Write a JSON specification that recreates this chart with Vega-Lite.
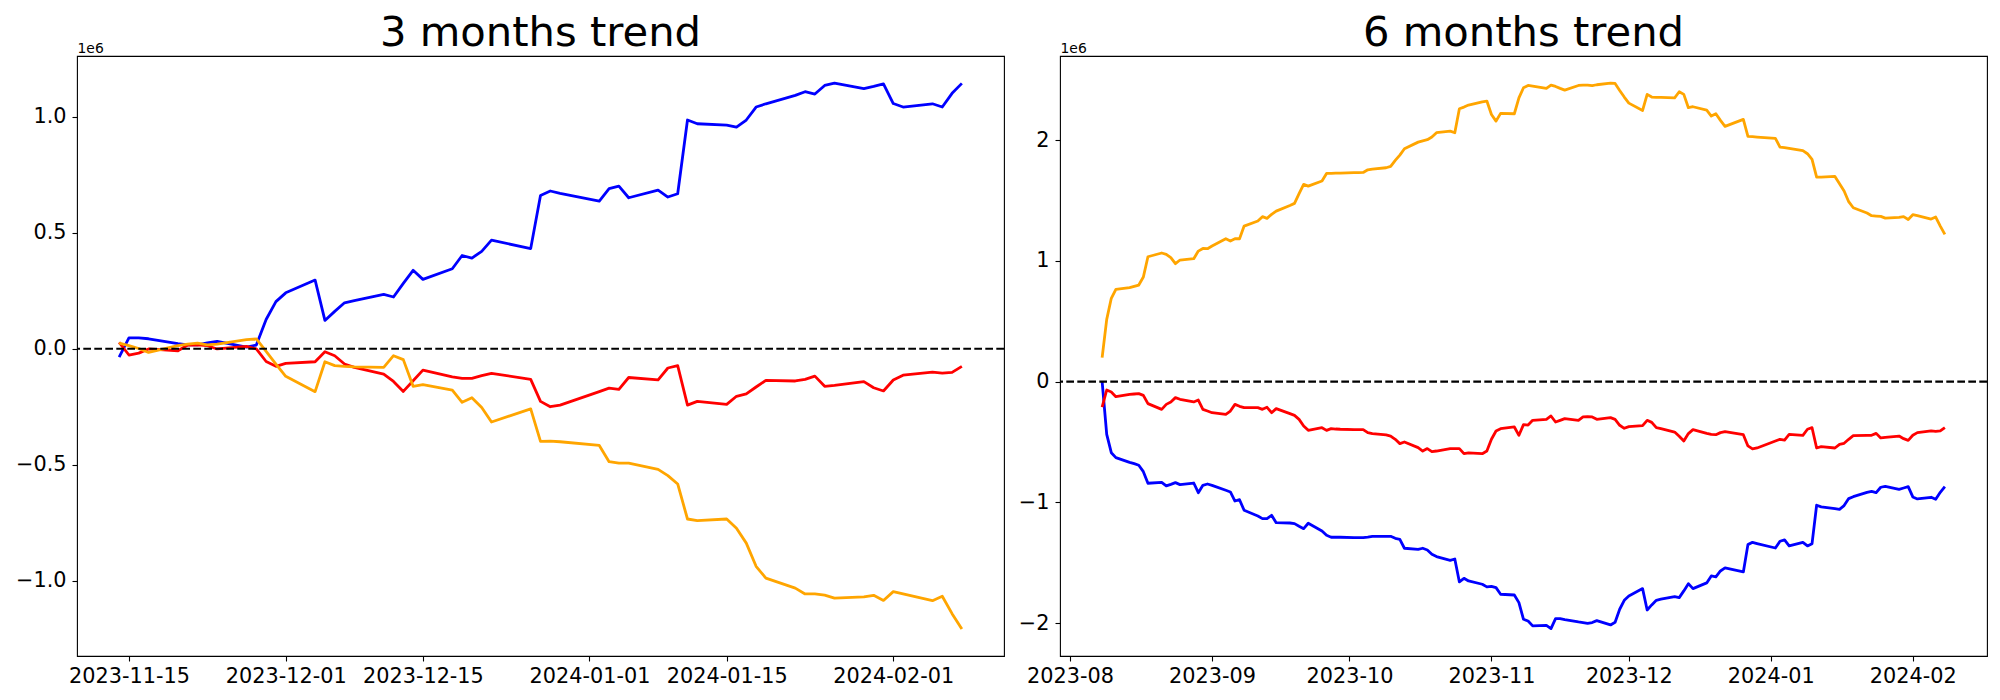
{
"$schema":"https://vega.github.io/schema/vega-lite/v6.json",
"padding":{"left":14,"top":12,"right":0,"bottom":0},
"background":"white",
"config":{
"font":"DejaVu Sans",
"view":{"stroke":"black","strokeWidth":1.1},
"axis":{"grid":false,"domain":false,"tickColor":"black","tickWidth":1.1,"tickSize":5,"labelFont":"DejaVu Sans","labelFontSize":20.8,"labelColor":"black","labelPadding":6,"titleFont":"DejaVu Sans"},
"title":{"font":"DejaVu Sans","fontSize":41.7,"fontWeight":"normal","color":"black"}
},
"bounds":"flush",
"spacing":56,
"datasets":{
"m3":[
{"date":"2023-11-14","series":"A","value":-36000},{"date":"2023-11-14","series":"B","value":27000},{"date":"2023-11-14","series":"C","value":24000},
{"date":"2023-11-15","series":"A","value":47000},{"date":"2023-11-15","series":"B","value":-27000},{"date":"2023-11-15","series":"C","value":13000},
{"date":"2023-11-16","series":"A","value":47000},{"date":"2023-11-16","series":"B","value":-19000},{"date":"2023-11-16","series":"C","value":1000},
{"date":"2023-11-17","series":"A","value":43000},{"date":"2023-11-17","series":"B","value":-1000},{"date":"2023-11-17","series":"C","value":-16000},
{"date":"2023-11-20","series":"A","value":22000},{"date":"2023-11-20","series":"B","value":-9000},{"date":"2023-11-20","series":"C","value":13000},
{"date":"2023-11-21","series":"A","value":17000},{"date":"2023-11-21","series":"B","value":16000},{"date":"2023-11-21","series":"C","value":20000},
{"date":"2023-11-22","series":"A","value":17000},{"date":"2023-11-22","series":"B","value":17000},{"date":"2023-11-22","series":"C","value":24000},
{"date":"2023-11-23","series":"A","value":25000},{"date":"2023-11-23","series":"B","value":13000},{"date":"2023-11-23","series":"C","value":17000},
{"date":"2023-11-24","series":"A","value":32000},{"date":"2023-11-24","series":"B","value":-1000},{"date":"2023-11-24","series":"C","value":20000},
{"date":"2023-11-27","series":"A","value":7000},{"date":"2023-11-27","series":"B","value":10000},{"date":"2023-11-27","series":"C","value":39000},
{"date":"2023-11-28","series":"A","value":16000},{"date":"2023-11-28","series":"B","value":-1000},{"date":"2023-11-28","series":"C","value":42000},
{"date":"2023-11-29","series":"A","value":126000},{"date":"2023-11-29","series":"B","value":-55000},{"date":"2023-11-29","series":"C","value":-11000},
{"date":"2023-11-30","series":"A","value":203000},{"date":"2023-11-30","series":"B","value":-76000},{"date":"2023-11-30","series":"C","value":-66000},
{"date":"2023-12-01","series":"A","value":241000},{"date":"2023-12-01","series":"B","value":-63000},{"date":"2023-12-01","series":"C","value":-119000},
{"date":"2023-12-04","series":"A","value":296000},{"date":"2023-12-04","series":"B","value":-56000},{"date":"2023-12-04","series":"C","value":-185000},
{"date":"2023-12-05","series":"A","value":122000},{"date":"2023-12-05","series":"B","value":-13000},{"date":"2023-12-05","series":"C","value":-56000},
{"date":"2023-12-06","series":"A","value":161000},{"date":"2023-12-06","series":"B","value":-30000},{"date":"2023-12-06","series":"C","value":-73000},
{"date":"2023-12-07","series":"A","value":198000},{"date":"2023-12-07","series":"B","value":-66000},{"date":"2023-12-07","series":"C","value":-76000},
{"date":"2023-12-08","series":"A","value":207000},{"date":"2023-12-08","series":"B","value":-80000},{"date":"2023-12-08","series":"C","value":-78000},
{"date":"2023-12-11","series":"A","value":234000},{"date":"2023-12-11","series":"B","value":-109000},{"date":"2023-12-11","series":"C","value":-80000},
{"date":"2023-12-12","series":"A","value":223000},{"date":"2023-12-12","series":"B","value":-141000},{"date":"2023-12-12","series":"C","value":-30000},
{"date":"2023-12-13","series":"A","value":282000},{"date":"2023-12-13","series":"B","value":-184000},{"date":"2023-12-13","series":"C","value":-47000},
{"date":"2023-12-14","series":"A","value":338000},{"date":"2023-12-14","series":"B","value":-138000},{"date":"2023-12-14","series":"C","value":-162000},
{"date":"2023-12-15","series":"A","value":299000},{"date":"2023-12-15","series":"B","value":-92000},{"date":"2023-12-15","series":"C","value":-155000},
{"date":"2023-12-18","series":"A","value":345000},{"date":"2023-12-18","series":"B","value":-121000},{"date":"2023-12-18","series":"C","value":-178000},
{"date":"2023-12-19","series":"A","value":402000},{"date":"2023-12-19","series":"B","value":-128000},{"date":"2023-12-19","series":"C","value":-231000},
{"date":"2023-12-20","series":"A","value":391000},{"date":"2023-12-20","series":"B","value":-128000},{"date":"2023-12-20","series":"C","value":-211000},
{"date":"2023-12-21","series":"A","value":420000},{"date":"2023-12-21","series":"B","value":-116000},{"date":"2023-12-21","series":"C","value":-253000},
{"date":"2023-12-22","series":"A","value":468000},{"date":"2023-12-22","series":"B","value":-106000},{"date":"2023-12-22","series":"C","value":-316000},
{"date":"2023-12-26","series":"A","value":432000},{"date":"2023-12-26","series":"B","value":-132000},{"date":"2023-12-26","series":"C","value":-259000},
{"date":"2023-12-27","series":"A","value":661000},{"date":"2023-12-27","series":"B","value":-227000},{"date":"2023-12-27","series":"C","value":-399000},
{"date":"2023-12-28","series":"A","value":680000},{"date":"2023-12-28","series":"B","value":-250000},{"date":"2023-12-28","series":"C","value":-398000},
{"date":"2023-12-29","series":"A","value":670000},{"date":"2023-12-29","series":"B","value":-243000},{"date":"2023-12-29","series":"C","value":-401000},
{"date":"2024-01-02","series":"A","value":636000},{"date":"2024-01-02","series":"B","value":-185000},{"date":"2024-01-02","series":"C","value":-417000},
{"date":"2024-01-03","series":"A","value":690000},{"date":"2024-01-03","series":"B","value":-170000},{"date":"2024-01-03","series":"C","value":-487000},
{"date":"2024-01-04","series":"A","value":701000},{"date":"2024-01-04","series":"B","value":-175000},{"date":"2024-01-04","series":"C","value":-493000},
{"date":"2024-01-05","series":"A","value":651000},{"date":"2024-01-05","series":"B","value":-124000},{"date":"2024-01-05","series":"C","value":-493000},
{"date":"2024-01-08","series":"A","value":684000},{"date":"2024-01-08","series":"B","value":-134000},{"date":"2024-01-08","series":"C","value":-520000},
{"date":"2024-01-09","series":"A","value":654000},{"date":"2024-01-09","series":"B","value":-83000},{"date":"2024-01-09","series":"C","value":-547000},
{"date":"2024-01-10","series":"A","value":668000},{"date":"2024-01-10","series":"B","value":-73000},{"date":"2024-01-10","series":"C","value":-583000},
{"date":"2024-01-11","series":"A","value":986000},{"date":"2024-01-11","series":"B","value":-243000},{"date":"2024-01-11","series":"C","value":-734000},
{"date":"2024-01-12","series":"A","value":970000},{"date":"2024-01-12","series":"B","value":-227000},{"date":"2024-01-12","series":"C","value":-741000},
{"date":"2024-01-15","series":"A","value":964000},{"date":"2024-01-15","series":"B","value":-240000},{"date":"2024-01-15","series":"C","value":-734000},
{"date":"2024-01-16","series":"A","value":955000},{"date":"2024-01-16","series":"B","value":-205000},{"date":"2024-01-16","series":"C","value":-774000},
{"date":"2024-01-17","series":"A","value":986000},{"date":"2024-01-17","series":"B","value":-195000},{"date":"2024-01-17","series":"C","value":-838000},
{"date":"2024-01-18","series":"A","value":1042000},{"date":"2024-01-18","series":"B","value":-165000},{"date":"2024-01-18","series":"C","value":-938000},
{"date":"2024-01-19","series":"A","value":1056000},{"date":"2024-01-19","series":"B","value":-136000},{"date":"2024-01-19","series":"C","value":-989000},
{"date":"2024-01-22","series":"A","value":1092000},{"date":"2024-01-22","series":"B","value":-139000},{"date":"2024-01-22","series":"C","value":-1032000},
{"date":"2024-01-23","series":"A","value":1108000},{"date":"2024-01-23","series":"B","value":-132000},{"date":"2024-01-23","series":"C","value":-1057000},
{"date":"2024-01-24","series":"A","value":1098000},{"date":"2024-01-24","series":"B","value":-118000},{"date":"2024-01-24","series":"C","value":-1057000},
{"date":"2024-01-25","series":"A","value":1135000},{"date":"2024-01-25","series":"B","value":-162000},{"date":"2024-01-25","series":"C","value":-1062000},
{"date":"2024-01-26","series":"A","value":1145000},{"date":"2024-01-26","series":"B","value":-158000},{"date":"2024-01-26","series":"C","value":-1075000},
{"date":"2024-01-29","series":"A","value":1121000},{"date":"2024-01-29","series":"B","value":-142000},{"date":"2024-01-29","series":"C","value":-1070000},
{"date":"2024-01-30","series":"A","value":1131000},{"date":"2024-01-30","series":"B","value":-168000},{"date":"2024-01-30","series":"C","value":-1063000},
{"date":"2024-01-31","series":"A","value":1142000},{"date":"2024-01-31","series":"B","value":-182000},{"date":"2024-01-31","series":"C","value":-1085000},
{"date":"2024-02-01","series":"A","value":1057000},{"date":"2024-02-01","series":"B","value":-135000},{"date":"2024-02-01","series":"C","value":-1047000},
{"date":"2024-02-02","series":"A","value":1042000},{"date":"2024-02-02","series":"B","value":-114000},{"date":"2024-02-02","series":"C","value":-1057000},
{"date":"2024-02-05","series":"A","value":1056000},{"date":"2024-02-05","series":"B","value":-101000},{"date":"2024-02-05","series":"C","value":-1086000},
{"date":"2024-02-06","series":"A","value":1042000},{"date":"2024-02-06","series":"B","value":-105000},{"date":"2024-02-06","series":"C","value":-1067000},
{"date":"2024-02-07","series":"A","value":1101000},{"date":"2024-02-07","series":"B","value":-102000},{"date":"2024-02-07","series":"C","value":-1142000},
{"date":"2024-02-08","series":"A","value":1144000},{"date":"2024-02-08","series":"B","value":-76000},{"date":"2024-02-08","series":"C","value":-1208000}
],
"m6":[
{"date":"2023-08-08","series":"A","value":0},{"date":"2023-08-08","series":"B","value":-210000},{"date":"2023-08-08","series":"C","value":199000},
{"date":"2023-08-09","series":"A","value":-436000},{"date":"2023-08-09","series":"B","value":-69000},{"date":"2023-08-09","series":"C","value":516000},
{"date":"2023-08-10","series":"A","value":-588000},{"date":"2023-08-10","series":"B","value":-86000},{"date":"2023-08-10","series":"C","value":690000},
{"date":"2023-08-11","series":"A","value":-629000},{"date":"2023-08-11","series":"B","value":-124000},{"date":"2023-08-11","series":"C","value":764000},
{"date":"2023-08-14","series":"A","value":-668000},{"date":"2023-08-14","series":"B","value":-105000},{"date":"2023-08-14","series":"C","value":778000},
{"date":"2023-08-15","series":"A","value":-679000},{"date":"2023-08-15","series":"B","value":-102000},{"date":"2023-08-15","series":"C","value":789000},
{"date":"2023-08-16","series":"A","value":-692000},{"date":"2023-08-16","series":"B","value":-99000},{"date":"2023-08-16","series":"C","value":800000},
{"date":"2023-08-17","series":"A","value":-745000},{"date":"2023-08-17","series":"B","value":-113000},{"date":"2023-08-17","series":"C","value":866000},
{"date":"2023-08-18","series":"A","value":-841000},{"date":"2023-08-18","series":"B","value":-182000},{"date":"2023-08-18","series":"C","value":1034000},
{"date":"2023-08-21","series":"A","value":-833000},{"date":"2023-08-21","series":"B","value":-229000},{"date":"2023-08-21","series":"C","value":1065000},
{"date":"2023-08-22","series":"A","value":-863000},{"date":"2023-08-22","series":"B","value":-188000},{"date":"2023-08-22","series":"C","value":1054000},
{"date":"2023-08-23","series":"A","value":-850000},{"date":"2023-08-23","series":"B","value":-168000},{"date":"2023-08-23","series":"C","value":1026000},
{"date":"2023-08-24","series":"A","value":-836000},{"date":"2023-08-24","series":"B","value":-132000},{"date":"2023-08-24","series":"C","value":977000},
{"date":"2023-08-25","series":"A","value":-852000},{"date":"2023-08-25","series":"B","value":-146000},{"date":"2023-08-25","series":"C","value":1007000},
{"date":"2023-08-28","series":"A","value":-839000},{"date":"2023-08-28","series":"B","value":-168000},{"date":"2023-08-28","series":"C","value":1018000},
{"date":"2023-08-29","series":"A","value":-919000},{"date":"2023-08-29","series":"B","value":-152000},{"date":"2023-08-29","series":"C","value":1081000},
{"date":"2023-08-30","series":"A","value":-858000},{"date":"2023-08-30","series":"B","value":-229000},{"date":"2023-08-30","series":"C","value":1103000},
{"date":"2023-08-31","series":"A","value":-847000},{"date":"2023-08-31","series":"B","value":-243000},{"date":"2023-08-31","series":"C","value":1101000},
{"date":"2023-09-01","series":"A","value":-858000},{"date":"2023-09-01","series":"B","value":-257000},{"date":"2023-09-01","series":"C","value":1123000},
{"date":"2023-09-04","series":"A","value":-899000},{"date":"2023-09-04","series":"B","value":-270000},{"date":"2023-09-04","series":"C","value":1183000},
{"date":"2023-09-05","series":"A","value":-913000},{"date":"2023-09-05","series":"B","value":-243000},{"date":"2023-09-05","series":"C","value":1164000},
{"date":"2023-09-06","series":"A","value":-988000},{"date":"2023-09-06","series":"B","value":-188000},{"date":"2023-09-06","series":"C","value":1183000},
{"date":"2023-09-07","series":"A","value":-977000},{"date":"2023-09-07","series":"B","value":-204000},{"date":"2023-09-07","series":"C","value":1183000},
{"date":"2023-09-08","series":"A","value":-1065000},{"date":"2023-09-08","series":"B","value":-215000},{"date":"2023-09-08","series":"C","value":1288000},
{"date":"2023-09-11","series":"A","value":-1112000},{"date":"2023-09-11","series":"B","value":-215000},{"date":"2023-09-11","series":"C","value":1330000},
{"date":"2023-09-12","series":"A","value":-1134000},{"date":"2023-09-12","series":"B","value":-229000},{"date":"2023-09-12","series":"C","value":1366000},
{"date":"2023-09-13","series":"A","value":-1134000},{"date":"2023-09-13","series":"B","value":-212000},{"date":"2023-09-13","series":"C","value":1352000},
{"date":"2023-09-14","series":"A","value":-1106000},{"date":"2023-09-14","series":"B","value":-257000},{"date":"2023-09-14","series":"C","value":1385000},
{"date":"2023-09-15","series":"A","value":-1167000},{"date":"2023-09-15","series":"B","value":-223000},{"date":"2023-09-15","series":"C","value":1412000},
{"date":"2023-09-18","series":"A","value":-1170000},{"date":"2023-09-18","series":"B","value":-265000},{"date":"2023-09-18","series":"C","value":1459000},
{"date":"2023-09-19","series":"A","value":-1175000},{"date":"2023-09-19","series":"B","value":-279000},{"date":"2023-09-19","series":"C","value":1476000},
{"date":"2023-09-20","series":"A","value":-1197000},{"date":"2023-09-20","series":"B","value":-312000},{"date":"2023-09-20","series":"C","value":1556000},
{"date":"2023-09-21","series":"A","value":-1217000},{"date":"2023-09-21","series":"B","value":-367000},{"date":"2023-09-21","series":"C","value":1633000},
{"date":"2023-09-22","series":"A","value":-1172000},{"date":"2023-09-22","series":"B","value":-403000},{"date":"2023-09-22","series":"C","value":1619000},
{"date":"2023-09-25","series":"A","value":-1236000},{"date":"2023-09-25","series":"B","value":-381000},{"date":"2023-09-25","series":"C","value":1661000},
{"date":"2023-09-26","series":"A","value":-1272000},{"date":"2023-09-26","series":"B","value":-403000},{"date":"2023-09-26","series":"C","value":1724000},
{"date":"2023-09-27","series":"A","value":-1288000},{"date":"2023-09-27","series":"B","value":-389000},{"date":"2023-09-27","series":"C","value":1724000},
{"date":"2023-09-28","series":"A","value":-1288000},{"date":"2023-09-28","series":"B","value":-392000},{"date":"2023-09-28","series":"C","value":1727000},
{"date":"2023-09-29","series":"A","value":-1288000},{"date":"2023-09-29","series":"B","value":-394000},{"date":"2023-09-29","series":"C","value":1727000},
{"date":"2023-10-02","series":"A","value":-1291000},{"date":"2023-10-02","series":"B","value":-397000},{"date":"2023-10-02","series":"C","value":1730000},
{"date":"2023-10-03","series":"A","value":-1291000},{"date":"2023-10-03","series":"B","value":-397000},{"date":"2023-10-03","series":"C","value":1730000},
{"date":"2023-10-04","series":"A","value":-1291000},{"date":"2023-10-04","series":"B","value":-397000},{"date":"2023-10-04","series":"C","value":1732000},
{"date":"2023-10-05","series":"A","value":-1286000},{"date":"2023-10-05","series":"B","value":-422000},{"date":"2023-10-05","series":"C","value":1754000},
{"date":"2023-10-06","series":"A","value":-1280000},{"date":"2023-10-06","series":"B","value":-430000},{"date":"2023-10-06","series":"C","value":1760000},
{"date":"2023-10-09","series":"A","value":-1280000},{"date":"2023-10-09","series":"B","value":-441000},{"date":"2023-10-09","series":"C","value":1771000},
{"date":"2023-10-10","series":"A","value":-1280000},{"date":"2023-10-10","series":"B","value":-450000},{"date":"2023-10-10","series":"C","value":1782000},
{"date":"2023-10-11","series":"A","value":-1297000},{"date":"2023-10-11","series":"B","value":-477000},{"date":"2023-10-11","series":"C","value":1832000},
{"date":"2023-10-12","series":"A","value":-1305000},{"date":"2023-10-12","series":"B","value":-513000},{"date":"2023-10-12","series":"C","value":1876000},
{"date":"2023-10-13","series":"A","value":-1379000},{"date":"2023-10-13","series":"B","value":-499000},{"date":"2023-10-13","series":"C","value":1928000},
{"date":"2023-10-16","series":"A","value":-1388000},{"date":"2023-10-16","series":"B","value":-546000},{"date":"2023-10-16","series":"C","value":1983000},
{"date":"2023-10-17","series":"A","value":-1379000},{"date":"2023-10-17","series":"B","value":-574000},{"date":"2023-10-17","series":"C","value":1994000},
{"date":"2023-10-18","series":"A","value":-1393000},{"date":"2023-10-18","series":"B","value":-554000},{"date":"2023-10-18","series":"C","value":2003000},
{"date":"2023-10-19","series":"A","value":-1429000},{"date":"2023-10-19","series":"B","value":-579000},{"date":"2023-10-19","series":"C","value":2025000},
{"date":"2023-10-20","series":"A","value":-1448000},{"date":"2023-10-20","series":"B","value":-574000},{"date":"2023-10-20","series":"C","value":2061000},
{"date":"2023-10-23","series":"A","value":-1479000},{"date":"2023-10-23","series":"B","value":-554000},{"date":"2023-10-23","series":"C","value":2074000},
{"date":"2023-10-24","series":"A","value":-1468000},{"date":"2023-10-24","series":"B","value":-554000},{"date":"2023-10-24","series":"C","value":2061000},
{"date":"2023-10-25","series":"A","value":-1658000},{"date":"2023-10-25","series":"B","value":-554000},{"date":"2023-10-25","series":"C","value":2259000},
{"date":"2023-10-26","series":"A","value":-1628000},{"date":"2023-10-26","series":"B","value":-596000},{"date":"2023-10-26","series":"C","value":2273000},
{"date":"2023-10-27","series":"A","value":-1650000},{"date":"2023-10-27","series":"B","value":-590000},{"date":"2023-10-27","series":"C","value":2290000},
{"date":"2023-10-30","series":"A","value":-1677000},{"date":"2023-10-30","series":"B","value":-596000},{"date":"2023-10-30","series":"C","value":2317000},
{"date":"2023-10-31","series":"A","value":-1699000},{"date":"2023-10-31","series":"B","value":-574000},{"date":"2023-10-31","series":"C","value":2323000},
{"date":"2023-11-01","series":"A","value":-1694000},{"date":"2023-11-01","series":"B","value":-477000},{"date":"2023-11-01","series":"C","value":2212000},
{"date":"2023-11-02","series":"A","value":-1705000},{"date":"2023-11-02","series":"B","value":-408000},{"date":"2023-11-02","series":"C","value":2157000},
{"date":"2023-11-03","series":"A","value":-1760000},{"date":"2023-11-03","series":"B","value":-389000},{"date":"2023-11-03","series":"C","value":2221000},
{"date":"2023-11-06","series":"A","value":-1766000},{"date":"2023-11-06","series":"B","value":-375000},{"date":"2023-11-06","series":"C","value":2218000},
{"date":"2023-11-07","series":"A","value":-1829000},{"date":"2023-11-07","series":"B","value":-444000},{"date":"2023-11-07","series":"C","value":2350000},
{"date":"2023-11-08","series":"A","value":-1967000},{"date":"2023-11-08","series":"B","value":-356000},{"date":"2023-11-08","series":"C","value":2433000},
{"date":"2023-11-09","series":"A","value":-1981000},{"date":"2023-11-09","series":"B","value":-359000},{"date":"2023-11-09","series":"C","value":2452000},
{"date":"2023-11-10","series":"A","value":-2022000},{"date":"2023-11-10","series":"B","value":-320000},{"date":"2023-11-10","series":"C","value":2447000},
{"date":"2023-11-13","series":"A","value":-2017000},{"date":"2023-11-13","series":"B","value":-312000},{"date":"2023-11-13","series":"C","value":2428000},
{"date":"2023-11-14","series":"A","value":-2044000},{"date":"2023-11-14","series":"B","value":-284000},{"date":"2023-11-14","series":"C","value":2455000},
{"date":"2023-11-15","series":"A","value":-1961000},{"date":"2023-11-15","series":"B","value":-334000},{"date":"2023-11-15","series":"C","value":2444000},
{"date":"2023-11-16","series":"A","value":-1961000},{"date":"2023-11-16","series":"B","value":-320000},{"date":"2023-11-16","series":"C","value":2428000},
{"date":"2023-11-17","series":"A","value":-1970000},{"date":"2023-11-17","series":"B","value":-306000},{"date":"2023-11-17","series":"C","value":2414000},
{"date":"2023-11-20","series":"A","value":-1989000},{"date":"2023-11-20","series":"B","value":-320000},{"date":"2023-11-20","series":"C","value":2452000},
{"date":"2023-11-21","series":"A","value":-1994000},{"date":"2023-11-21","series":"B","value":-292000},{"date":"2023-11-21","series":"C","value":2455000},
{"date":"2023-11-22","series":"A","value":-2000000},{"date":"2023-11-22","series":"B","value":-290000},{"date":"2023-11-22","series":"C","value":2455000},
{"date":"2023-11-23","series":"A","value":-1994000},{"date":"2023-11-23","series":"B","value":-292000},{"date":"2023-11-23","series":"C","value":2450000},
{"date":"2023-11-24","series":"A","value":-1978000},{"date":"2023-11-24","series":"B","value":-312000},{"date":"2023-11-24","series":"C","value":2458000},
{"date":"2023-11-27","series":"A","value":-2014000},{"date":"2023-11-27","series":"B","value":-298000},{"date":"2023-11-27","series":"C","value":2472000},
{"date":"2023-11-28","series":"A","value":-1992000},{"date":"2023-11-28","series":"B","value":-312000},{"date":"2023-11-28","series":"C","value":2469000},
{"date":"2023-11-29","series":"A","value":-1884000},{"date":"2023-11-29","series":"B","value":-361000},{"date":"2023-11-29","series":"C","value":2411000},
{"date":"2023-11-30","series":"A","value":-1810000},{"date":"2023-11-30","series":"B","value":-386000},{"date":"2023-11-30","series":"C","value":2356000},
{"date":"2023-12-01","series":"A","value":-1774000},{"date":"2023-12-01","series":"B","value":-372000},{"date":"2023-12-01","series":"C","value":2306000},
{"date":"2023-12-04","series":"A","value":-1713000},{"date":"2023-12-04","series":"B","value":-364000},{"date":"2023-12-04","series":"C","value":2245000},
{"date":"2023-12-05","series":"A","value":-1890000},{"date":"2023-12-05","series":"B","value":-320000},{"date":"2023-12-05","series":"C","value":2378000},
{"date":"2023-12-06","series":"A","value":-1848000},{"date":"2023-12-06","series":"B","value":-337000},{"date":"2023-12-06","series":"C","value":2356000},
{"date":"2023-12-07","series":"A","value":-1810000},{"date":"2023-12-07","series":"B","value":-381000},{"date":"2023-12-07","series":"C","value":2353000},
{"date":"2023-12-08","series":"A","value":-1801000},{"date":"2023-12-08","series":"B","value":-389000},{"date":"2023-12-08","series":"C","value":2353000},
{"date":"2023-12-11","series":"A","value":-1779000},{"date":"2023-12-11","series":"B","value":-417000},{"date":"2023-12-11","series":"C","value":2350000},
{"date":"2023-12-12","series":"A","value":-1788000},{"date":"2023-12-12","series":"B","value":-452000},{"date":"2023-12-12","series":"C","value":2400000},
{"date":"2023-12-13","series":"A","value":-1732000},{"date":"2023-12-13","series":"B","value":-491000},{"date":"2023-12-13","series":"C","value":2378000},
{"date":"2023-12-14","series":"A","value":-1672000},{"date":"2023-12-14","series":"B","value":-430000},{"date":"2023-12-14","series":"C","value":2268000},
{"date":"2023-12-15","series":"A","value":-1713000},{"date":"2023-12-15","series":"B","value":-397000},{"date":"2023-12-15","series":"C","value":2276000},
{"date":"2023-12-18","series":"A","value":-1666000},{"date":"2023-12-18","series":"B","value":-428000},{"date":"2023-12-18","series":"C","value":2248000},
{"date":"2023-12-19","series":"A","value":-1608000},{"date":"2023-12-19","series":"B","value":-436000},{"date":"2023-12-19","series":"C","value":2199000},
{"date":"2023-12-20","series":"A","value":-1616000},{"date":"2023-12-20","series":"B","value":-439000},{"date":"2023-12-20","series":"C","value":2218000},
{"date":"2023-12-21","series":"A","value":-1567000},{"date":"2023-12-21","series":"B","value":-422000},{"date":"2023-12-21","series":"C","value":2163000},
{"date":"2023-12-22","series":"A","value":-1542000},{"date":"2023-12-22","series":"B","value":-414000},{"date":"2023-12-22","series":"C","value":2113000},
{"date":"2023-12-26","series":"A","value":-1575000},{"date":"2023-12-26","series":"B","value":-439000},{"date":"2023-12-26","series":"C","value":2171000},
{"date":"2023-12-27","series":"A","value":-1349000},{"date":"2023-12-27","series":"B","value":-532000},{"date":"2023-12-27","series":"C","value":2030000},
{"date":"2023-12-28","series":"A","value":-1330000},{"date":"2023-12-28","series":"B","value":-557000},{"date":"2023-12-28","series":"C","value":2028000},
{"date":"2023-12-29","series":"A","value":-1340000},{"date":"2023-12-29","series":"B","value":-549000},{"date":"2023-12-29","series":"C","value":2025000},
{"date":"2024-01-02","series":"A","value":-1377000},{"date":"2024-01-02","series":"B","value":-491000},{"date":"2024-01-02","series":"C","value":2014000},
{"date":"2024-01-03","series":"A","value":-1321000},{"date":"2024-01-03","series":"B","value":-477000},{"date":"2024-01-03","series":"C","value":1942000},
{"date":"2024-01-04","series":"A","value":-1310000},{"date":"2024-01-04","series":"B","value":-483000},{"date":"2024-01-04","series":"C","value":1937000},
{"date":"2024-01-05","series":"A","value":-1360000},{"date":"2024-01-05","series":"B","value":-436000},{"date":"2024-01-05","series":"C","value":1931000},
{"date":"2024-01-08","series":"A","value":-1330000},{"date":"2024-01-08","series":"B","value":-444000},{"date":"2024-01-08","series":"C","value":1912000},
{"date":"2024-01-09","series":"A","value":-1360000},{"date":"2024-01-09","series":"B","value":-394000},{"date":"2024-01-09","series":"C","value":1887000},
{"date":"2024-01-10","series":"A","value":-1341000},{"date":"2024-01-10","series":"B","value":-381000},{"date":"2024-01-10","series":"C","value":1840000},
{"date":"2024-01-11","series":"A","value":-1023000},{"date":"2024-01-11","series":"B","value":-549000},{"date":"2024-01-11","series":"C","value":1694000},
{"date":"2024-01-12","series":"A","value":-1037000},{"date":"2024-01-12","series":"B","value":-538000},{"date":"2024-01-12","series":"C","value":1694000},
{"date":"2024-01-15","series":"A","value":-1051000},{"date":"2024-01-15","series":"B","value":-549000},{"date":"2024-01-15","series":"C","value":1699000},
{"date":"2024-01-16","series":"A","value":-1057000},{"date":"2024-01-16","series":"B","value":-519000},{"date":"2024-01-16","series":"C","value":1639000},
{"date":"2024-01-17","series":"A","value":-1026000},{"date":"2024-01-17","series":"B","value":-510000},{"date":"2024-01-17","series":"C","value":1578000},
{"date":"2024-01-18","series":"A","value":-968000},{"date":"2024-01-18","series":"B","value":-477000},{"date":"2024-01-18","series":"C","value":1490000},
{"date":"2024-01-19","series":"A","value":-952000},{"date":"2024-01-19","series":"B","value":-447000},{"date":"2024-01-19","series":"C","value":1440000},
{"date":"2024-01-22","series":"A","value":-916000},{"date":"2024-01-22","series":"B","value":-444000},{"date":"2024-01-22","series":"C","value":1396000},
{"date":"2024-01-23","series":"A","value":-908000},{"date":"2024-01-23","series":"B","value":-444000},{"date":"2024-01-23","series":"C","value":1374000},
{"date":"2024-01-24","series":"A","value":-919000},{"date":"2024-01-24","series":"B","value":-428000},{"date":"2024-01-24","series":"C","value":1371000},
{"date":"2024-01-25","series":"A","value":-874000},{"date":"2024-01-25","series":"B","value":-466000},{"date":"2024-01-25","series":"C","value":1368000},
{"date":"2024-01-26","series":"A","value":-866000},{"date":"2024-01-26","series":"B","value":-461000},{"date":"2024-01-26","series":"C","value":1354000},
{"date":"2024-01-29","series":"A","value":-891000},{"date":"2024-01-29","series":"B","value":-450000},{"date":"2024-01-29","series":"C","value":1360000},
{"date":"2024-01-30","series":"A","value":-880000},{"date":"2024-01-30","series":"B","value":-472000},{"date":"2024-01-30","series":"C","value":1366000},
{"date":"2024-01-31","series":"A","value":-869000},{"date":"2024-01-31","series":"B","value":-486000},{"date":"2024-01-31","series":"C","value":1343000},
{"date":"2024-02-01","series":"A","value":-954000},{"date":"2024-02-01","series":"B","value":-444000},{"date":"2024-02-01","series":"C","value":1382000},
{"date":"2024-02-02","series":"A","value":-971000},{"date":"2024-02-02","series":"B","value":-422000},{"date":"2024-02-02","series":"C","value":1374000},
{"date":"2024-02-05","series":"A","value":-957000},{"date":"2024-02-05","series":"B","value":-408000},{"date":"2024-02-05","series":"C","value":1346000},
{"date":"2024-02-06","series":"A","value":-974000},{"date":"2024-02-06","series":"B","value":-411000},{"date":"2024-02-06","series":"C","value":1363000},
{"date":"2024-02-07","series":"A","value":-916000},{"date":"2024-02-07","series":"B","value":-408000},{"date":"2024-02-07","series":"C","value":1288000},
{"date":"2024-02-08","series":"A","value":-869000},{"date":"2024-02-08","series":"B","value":-381000},{"date":"2024-02-08","series":"C","value":1219000}
]
},
"hconcat":[
{
"title":{"text":"3 months trend","baseline":"alphabetic","offset":-46},
"width":927,"height":600,
"layer":[
{"data":{"name":"m3"},
"mark":{"type":"line","strokeWidth":2.8,"strokeJoin":"round"},
"encoding":{
"x":{"field":"date","type":"temporal","scale":{"type":"utc","domain":[{"year":2023,"month":11,"date":9,"hours":16,"minutes":48,"utc":true},{"year":2024,"month":2,"date":12,"hours":7,"minutes":12,"utc":true}]},
"axis":{"title":null,"labelAngle":0,"labelFlush":false,"labelOverlap":false,"labelPadding":5,"values":[{"year":2023,"month":11,"date":15,"utc":true},{"year":2023,"month":12,"date":1,"utc":true},{"year":2023,"month":12,"date":15,"utc":true},{"year":2024,"month":1,"date":1,"utc":true},{"year":2024,"month":1,"date":15,"utc":true},{"year":2024,"month":2,"date":1,"utc":true}],"labelExpr":"utcFormat(datum.value, '%Y-%m-%d')"}},
"y":{"field":"value","type":"quantitative","scale":{"domain":[-1324600,1262000],"nice":false,"zero":false},
"axis":{"values":[-1000000,-500000,0,500000,1000000],"labelExpr":"format(datum.value/1000000, '.1f')","title":"1e6","titleAngle":0,"titleAlign":"left","titleBaseline":"alphabetic","titleX":0,"titleY":-3.3,"titleFontSize":13.9,"titleFontWeight":"normal","titleColor":"black"}},
"color":{"field":"series","type":"nominal","scale":{"domain":["A","B","C"],"range":["#0000ff","#ff0000","#ffa500"]},"legend":null}
}},
{"data":{"values":[{"level":0}]},
"mark":{"type":"rule","color":"black","strokeWidth":2.1,"strokeDash":[7.7,3.3]},
"encoding":{"y":{"field":"level","type":"quantitative"}}}
]
},
{
"title":{"text":"6 months trend","baseline":"alphabetic","offset":-46},
"width":927,"height":600,
"layer":[
{"data":{"name":"m6"},
"mark":{"type":"line","strokeWidth":2.8,"strokeJoin":"round"},
"encoding":{
"x":{"field":"date","type":"temporal","scale":{"type":"utc","domain":[{"year":2023,"month":7,"date":29,"hours":19,"minutes":12,"utc":true},{"year":2024,"month":2,"date":17,"hours":4,"minutes":48,"utc":true}]},
"axis":{"title":null,"labelAngle":0,"labelFlush":false,"labelOverlap":false,"labelPadding":5,"values":[{"year":2023,"month":8,"date":1,"utc":true},{"year":2023,"month":9,"date":1,"utc":true},{"year":2023,"month":10,"date":1,"utc":true},{"year":2023,"month":11,"date":1,"utc":true},{"year":2023,"month":12,"date":1,"utc":true},{"year":2024,"month":1,"date":1,"utc":true},{"year":2024,"month":2,"date":1,"utc":true}],"labelExpr":"utcFormat(datum.value, '%Y-%m')"}},
"y":{"field":"value","type":"quantitative","scale":{"domain":[-2271000,2696000],"nice":false,"zero":false},
"axis":{"values":[-2000000,-1000000,0,1000000,2000000],"labelExpr":"format(datum.value/1000000, 'd')","title":"1e6","titleAngle":0,"titleAlign":"left","titleBaseline":"alphabetic","titleX":0,"titleY":-3.3,"titleFontSize":13.9,"titleFontWeight":"normal","titleColor":"black"}},
"color":{"field":"series","type":"nominal","scale":{"domain":["A","B","C"],"range":["#0000ff","#ff0000","#ffa500"]},"legend":null}
}},
{"data":{"values":[{"level":0}]},
"mark":{"type":"rule","color":"black","strokeWidth":2.1,"strokeDash":[7.7,3.3]},
"encoding":{"y":{"field":"level","type":"quantitative"}}}
]
}
]
}
